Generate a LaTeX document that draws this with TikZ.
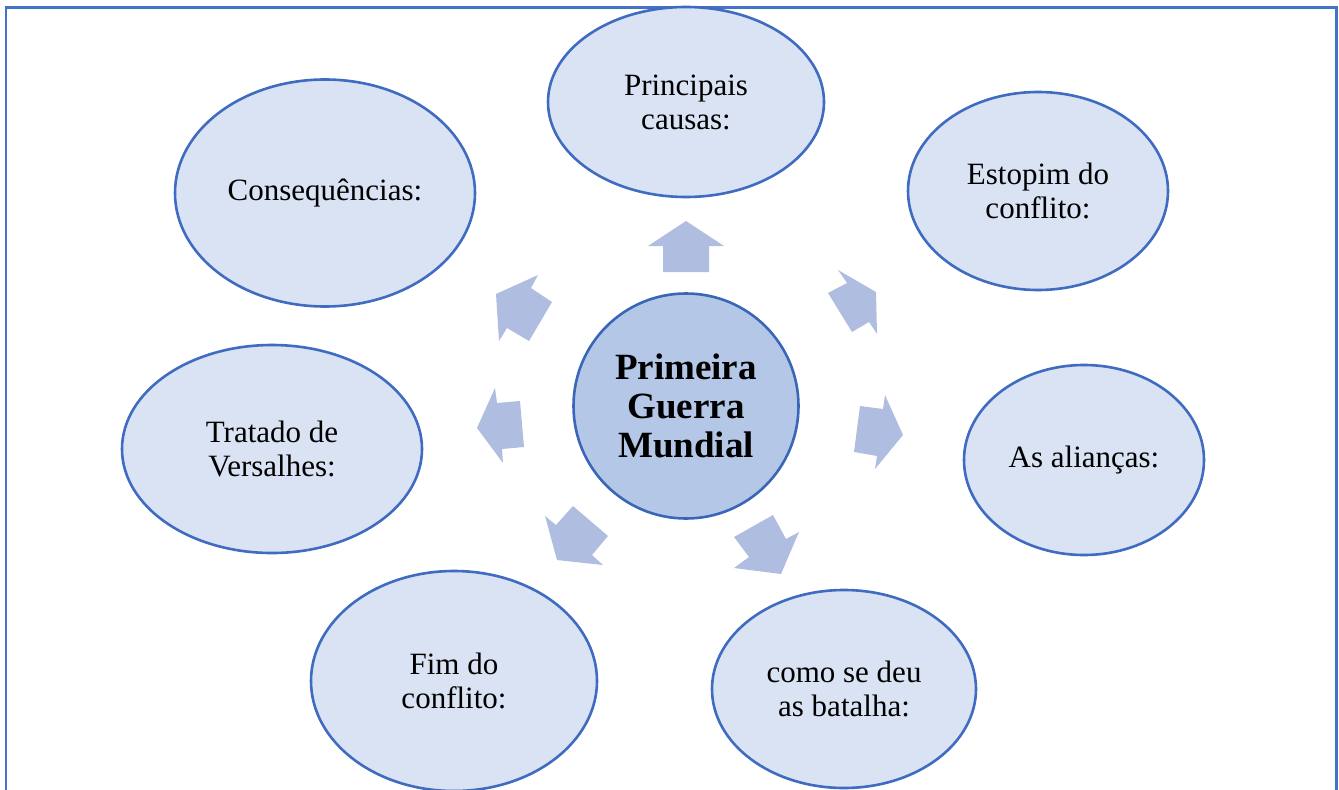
\documentclass[tikz,border=0pt]{standalone}
\usepackage{fontspec}
\setmainfont{Liberation Serif}
\usetikzlibrary{shapes.geometric}
\definecolor{edge}{HTML}{3F6BC0}
\definecolor{frame}{HTML}{4472C4}
\definecolor{hubedge}{HTML}{3A66B8}
\definecolor{efill}{HTML}{DAE3F3}
\definecolor{cfill}{HTML}{B4C7E7}
\definecolor{afill}{HTML}{AFBDE0}
\begin{document}
\begin{tikzpicture}[x=1pt,y=-1pt,
 topic/.style={ellipse, draw=edge, fill=efill, line width=2.6pt, inner sep=0pt, align=center, font=\fontsize{31}{34}\selectfont},
 hub/.style={circle, draw=hubedge, fill=cfill, line width=2.6pt, inner sep=0pt, minimum size=225pt, align=center, font=\fontsize{37}{39}\selectfont\bfseries},
 blockarrow/.style={fill=afill}]
\useasboundingbox (0,0) rectangle (1339,790);
\begin{scope}
\clip (0,0) rectangle (1339,790);
\draw[frame, line width=2.5pt] (6,7.5) rectangle (1336.5,820);
\node[topic, minimum width=276pt, minimum height=190pt] (causas) at (686,102) {Principais\\causas:};
\node[topic, minimum width=260pt, minimum height=198pt] (estopim) at (1038,191) {Estopim do\\conflito:};
\node[topic, minimum width=240pt, minimum height=190pt] (aliancas) at (1084,460) {As alianças:};
\node[topic, minimum width=264pt, minimum height=198pt] (batalha) at (844,689) {como se deu\\as batalha:};
\node[topic, minimum width=286pt, minimum height=220pt] (fim) at (454,681) {Fim do\\conflito:};
\node[topic, minimum width=300pt, minimum height=208pt] (tratado) at (272,449) {Tratado de\\Versalhes:};
\node[topic, minimum width=300pt, minimum height=227pt] (conseq) at (325,193) {Consequências:};
\node[hub] (hub) at (686,406) {Primeira\\Guerra\\Mundial};
% block arrows
\fill[blockarrow] (686,221) -- (724,246) -- (709,246) -- (709,272) -- (663,272) -- (663,246) -- (648,246) -- cycle;
\fill[blockarrow] (876,292) -- (877,334) -- (869,322) -- (852,332) -- (828,293) -- (847,283) -- (838,270) -- cycle;
\fill[blockarrow] (903,435) -- (875,469) -- (877,456) -- (854,452) -- (860,406) -- (883,409) -- (885,395) -- cycle;
\fill[blockarrow] (781,574) -- (734,568) -- (749,557) -- (734,537) -- (773,515) -- (786,539) -- (799,532) -- cycle;
\fill[blockarrow] (557,560) -- (603,565) -- (592,555) -- (608,536) -- (573,506) -- (556,525) -- (545,516) -- cycle;
\fill[blockarrow] (477,428) -- (503,463) -- (502,449) -- (524,447) -- (520,401) -- (497,403) -- (495,388) -- cycle;
\fill[blockarrow] (496,294) -- (538,275) -- (531,288) -- (552,302) -- (529,341) -- (507,328) -- (499,341) -- cycle;
\end{scope}
\end{tikzpicture}
\end{document}
